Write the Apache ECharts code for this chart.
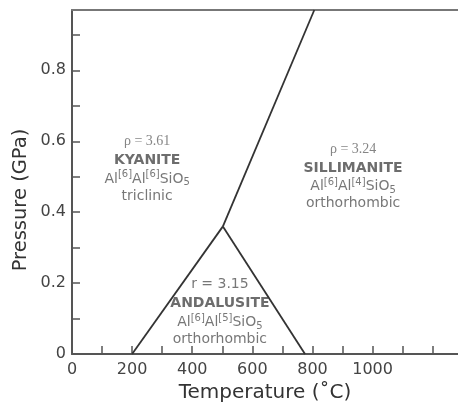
<!DOCTYPE html>
<html>
<head>
<meta charset="utf-8">
<script src="https://cdn.jsdelivr.net/npm/echarts@6/dist/echarts.min.js"></script>
<style>
  html, body { margin: 0; padding: 0; background: #fff; }
  #chart { width: 458px; height: 408px; }
</style>
</head>
<body>
<div id="chart"></div>
<script>
// phase boundaries (temperature °C, pressure GPa)
var kyaniteAndalusite = [[200, 0], [502, 0.36]]
var andalusiteSillimanite = [[502, 0.36], [775, 0]]
var kyaniteSillimanite = [[502, 0.36], [806, 0.97]]

// ticks
var xTicks = [0, 100, 200, 300, 400, 500, 600, 700, 800, 900, 1000, 1100, 1200]
var xLabels = [0, 200, 400, 600, 800, 1000]
var yTicks = [0, 0.1, 0.2, 0.3, 0.4, 0.5, 0.6, 0.7, 0.8, 0.9]
var yLabels = [0, 0.2, 0.4, 0.6, 0.8]

// field labels
var fieldNames = ['KYANITE', 'SILLIMANITE', 'ANDALUSITE']
var fieldDensity = ['ρ = 3.61', 'ρ = 3.24', 'r = 3.15']
var fieldSites = [['6', '6'], ['6', '4'], ['6', '5']]
var fieldSystem = ['triclinic', 'orthorhombic', 'orthorhombic']
var fieldCenters = [[250, 0.525], [935, 0.503], [492, 0.121]]

var axisColor = '#555'
var textColor = '#444'

function fieldLabel (i) {
  // the andalusite density is set in the sans face, the others in serif
  var rhoStyle = i === 2 ? 'rhoSans' : 'rho'
  return '{' + rhoStyle + '|' + fieldDensity[i] + '}\n' +
    '{name|' + fieldNames[i] + '}\n' +
    '{f|Al}{sup|[' + fieldSites[i][0] + ']}{f|Al}{sup|[' + fieldSites[i][1] + ']}{f|SiO}{sub|5}\n' +
    '{sys|' + fieldSystem[i] + '}'
}

function boundary (data) {
  return {
    type: 'line',
    data: data,
    symbol: 'none',
    silent: true,
    lineStyle: { color: '#333', width: 1.8 }
  }
}

var chart = echarts.init(document.getElementById('chart'))

chart.setOption({
  animation: false,
  grid: { left: 72, right: 0, top: 10, bottom: 51 },
  xAxis: [{
    type: 'value',
    min: 0,
    max: 1284,
    interval: 100,
    splitLine: { show: false },
    axisLine: { lineStyle: { color: axisColor, width: 2 } },
    axisTick: { inside: true, length: 8, customValues: xTicks, lineStyle: { color: axisColor, width: 1.5 } },
    axisLabel: {
      customValues: xLabels,
      color: textColor,
      fontFamily: 'DejaVu Sans',
      fontSize: 16,
      margin: 8,
      formatter: function (v) { return String(v) }
    },
    name: 'Temperature (˚C)',
    nameLocation: 'middle',
    nameGap: 26,
    nameTextStyle: { color: '#333', fontFamily: 'DejaVu Sans', fontSize: 20 }
  }, {
    type: 'value',
    position: 'top',
    min: 0,
    max: 1284,
    splitLine: { show: false },
    axisLine: { lineStyle: { color: '#777', width: 2 } },
    axisTick: { show: false },
    axisLabel: { show: false }
  }],
  yAxis: {
    type: 'value',
    min: 0,
    max: 0.97,
    interval: 0.1,
    splitLine: { show: false },
    axisLine: { lineStyle: { color: axisColor, width: 2 } },
    axisTick: { inside: true, length: 8, customValues: yTicks, lineStyle: { color: axisColor, width: 1.5 } },
    axisLabel: {
      customValues: yLabels,
      color: textColor,
      fontFamily: 'DejaVu Sans',
      fontSize: 16,
      margin: 6,
      formatter: function (v) { return v === 0 ? '0' : v.toFixed(1) }
    }
  },
  graphic: [{
    type: 'text',
    x: 21,
    y: 200,
    rotation: Math.PI / 2,
    style: {
      text: 'Pressure (GPa)',
      fill: '#333',
      font: '19.5px "DejaVu Sans"',
      align: 'center',
      verticalAlign: 'middle'
    }
  }],
  series: [
    boundary(kyaniteAndalusite),
    boundary(andalusiteSillimanite),
    boundary(kyaniteSillimanite),
    {
      type: 'scatter',
      symbolSize: 0,
      silent: true,
      data: fieldCenters.map(function (c, i) {
        return { value: c, label: { formatter: fieldLabel(i) } }
      }),
      label: {
        show: true,
        position: 'inside',
        align: 'center',
        verticalAlign: 'middle',
        rich: {
          rho: { fontFamily: 'Liberation Serif', fontSize: 14, color: '#666', lineHeight: 19 },
          rhoSans: { fontFamily: 'DejaVu Sans', fontSize: 14, color: '#555', lineHeight: 19 },
          name: { fontFamily: 'DejaVu Sans', fontWeight: 'bold', fontSize: 14, color: '#484848', lineHeight: 19 },
          f: { fontFamily: 'DejaVu Sans', fontSize: 14, color: '#555', lineHeight: 18 },
          sup: { fontFamily: 'DejaVu Sans', fontSize: 10, color: '#555', verticalAlign: 'top', lineHeight: 18 },
          sub: { fontFamily: 'DejaVu Sans', fontSize: 10, color: '#555', verticalAlign: 'bottom', lineHeight: 14 },
          sys: { fontFamily: 'DejaVu Sans', fontSize: 14, color: '#555', lineHeight: 16 }
        }
      }
    }
  ]
})
</script>
</body>
</html>
